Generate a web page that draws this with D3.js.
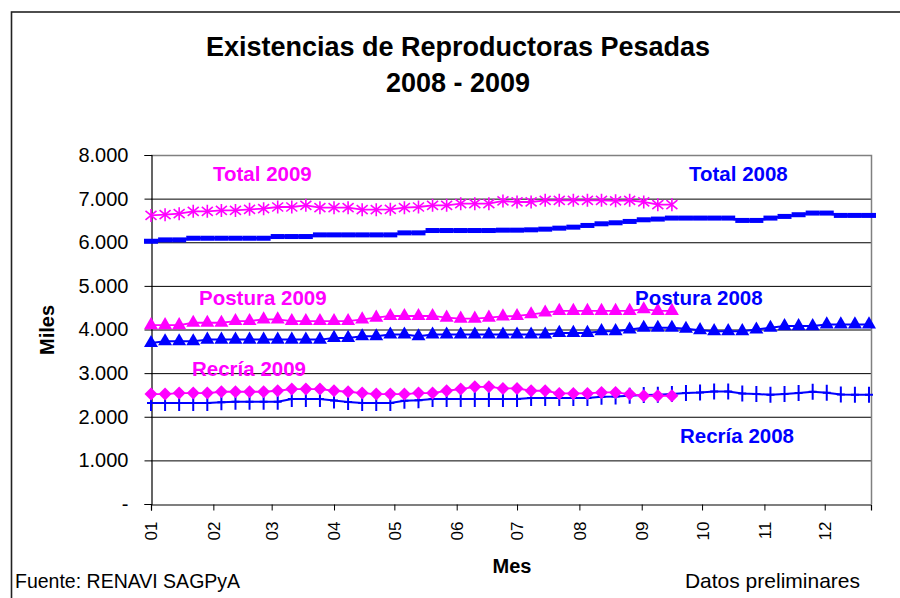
<!DOCTYPE html>
<html>
<head>
<meta charset="utf-8">
<script src="https://cdn.jsdelivr.net/npm/d3@7"></script>
<style>
  body { margin: 0; background: #fff; }
  svg { display: block; }
  text { font-family: "Liberation Sans", Arial, sans-serif; }
</style>
</head>
<body>
<svg id="chart" width="900" height="598"></svg>
<script>
// ---------------- DATA ----------------
const monthLabels = ["01","02","03","04","05","06","07","08","09","10","11","12"];
const monthStartDays = [0,31,60,91,121,152,182,213,244,274,305,335];
const yTickValues = [0,1000,2000,3000,4000,5000,6000,7000,8000];
const yTickLabels = ["-","1.000","2.000","3.000","4.000","5.000","6.000","7.000","8.000"];

// weekly values (miles), week index 0..n
const total2008 = [6023,6054,6054,6092,6092,6092,6092,6092,6092,6131,6131,6131,6169,6169,6169,6169,6169,6169,6215,6215,6269,6269,6269,6269,6269,6277,6277,6285,6300,6323,6346,6385,6423,6446,6477,6515,6531,6554,6554,6554,6554,6554,6500,6500,6554,6592,6631,6669,6669,6615,6615,6615];
const total2009 = [6615,6631,6654,6708,6708,6730,6730,6754,6770,6808,6808,6846,6792,6792,6792,6746,6746,6754,6792,6808,6846,6846,6885,6885,6885,6946,6923,6923,6962,6962,6962,6962,6962,6950,6962,6923,6862,6862];
const postura2008 = [3690,3729,3729,3729,3768,3768,3768,3768,3768,3768,3768,3768,3768,3806,3806,3845,3845,3884,3884,3845,3884,3884,3884,3884,3884,3884,3884,3884,3884,3922,3922,3922,3961,3961,4000,4039,4039,4039,4016,3984,3961,3961,3961,4000,4039,4078,4078,4078,4116,4116,4116,4116];
const postura2009 = [4101,4101,4101,4155,4155,4155,4194,4194,4233,4233,4194,4194,4194,4194,4194,4233,4271,4310,4310,4310,4310,4271,4248,4248,4271,4300,4310,4349,4388,4426,4426,4426,4426,4426,4426,4465,4426,4426];
const recria2008 = [2313,2313,2313,2313,2313,2330,2344,2344,2344,2344,2405,2405,2405,2370,2340,2313,2313,2313,2367,2380,2405,2405,2405,2405,2405,2405,2405,2428,2428,2428,2428,2428,2458,2465,2481,2496,2504,2519,2542,2557,2580,2580,2535,2519,2504,2519,2542,2573,2550,2512,2504,2504];
const recria2009 = [2519,2519,2542,2542,2542,2573,2573,2573,2573,2596,2634,2634,2634,2596,2573,2542,2519,2519,2519,2542,2542,2596,2634,2687,2687,2649,2649,2596,2596,2535,2535,2535,2557,2557,2519,2481,2481,2481];

const seriesLabels = [
  {text:"Total 2009", color:"#FF00FF", x:213, y:181},
  {text:"Total 2008", color:"#0000FF", x:689, y:181},
  {text:"Postura 2009", color:"#FF00FF", x:199, y:305},
  {text:"Postura 2008", color:"#0000FF", x:635, y:305},
  {text:"Recría 2009", color:"#FF00FF", x:192, y:376},
  {text:"Recría 2008", color:"#0000FF", x:680, y:443}
];

// ---------------- LAYOUT ----------------
const svg = d3.select("#chart");
const L = 151, R = 871, T = 155, B = 504;
const x = d3.scaleLinear().domain([0, 358]).range([L, R]);
const y = d3.scaleLinear().domain([0, 8000]).range([B, T]);
const dayOf = i => i * 7;

// outer chart border (left & top visible)
svg.append("rect").attr("x",11.5).attr("y",12).attr("width",1000).attr("height",1000)
  .attr("fill","none").attr("stroke","#222").attr("stroke-width",1.6);

// title
svg.append("text").attr("x",458).attr("y",56).attr("text-anchor","middle")
  .attr("font-size",27).attr("font-weight","bold").text("Existencias de Reproductoras Pesadas");
svg.append("text").attr("x",458).attr("y",92).attr("text-anchor","middle")
  .attr("font-size",27).attr("font-weight","bold").text("2008 - 2009");

// gridlines
svg.append("g").selectAll("line").data(yTickValues.filter(v => v > 0 && v < 8000)).join("line")
  .attr("x1",L).attr("x2",R).attr("y1",d=>y(d)+0.5).attr("y2",d=>y(d)+0.5)
  .attr("stroke","#000").attr("stroke-width",1);

// plot-area border (top & right gray)
svg.append("path").attr("d",`M${L},${T+0.5}H${R+0.5}V${B}`).attr("fill","none")
  .attr("stroke","#808080").attr("stroke-width",1.5);

// y axis
const yAxis = d3.axisLeft(y).tickValues(yTickValues).tickSize(7).tickPadding(16)
  .tickFormat((d,i) => yTickLabels[i]);
const gy = svg.append("g").attr("transform",`translate(${L+0.5},0)`).call(yAxis);
gy.select(".domain").attr("stroke","#000").attr("stroke-width",1.2);
gy.selectAll(".tick line").attr("stroke","#000");
gy.selectAll(".tick text").attr("font-size",20).attr("fill","#000")
  .style("font-family",'"Liberation Sans", Arial, sans-serif');

// x axis
const xAxis = d3.axisBottom(x).tickValues(monthStartDays).tickSize(6).tickFormat((d,i)=>monthLabels[i]);
const gx = svg.append("g").attr("transform",`translate(0,${B+0.5})`).call(xAxis);
gx.select(".domain").attr("stroke","#000").attr("stroke-width",1.2);
gx.selectAll(".tick line").attr("stroke","#000");
gx.selectAll(".tick text")
  .attr("font-size",17).attr("fill","#000")
  .style("font-family",'"Liberation Sans", Arial, sans-serif')
  .attr("text-anchor","end").attr("y",0).attr("dy","0.35em")
  .attr("transform","translate(0,17) rotate(-90)");

// axis titles
svg.append("text").attr("transform","translate(54,330) rotate(-90)").attr("text-anchor","middle")
  .attr("font-size",20).attr("font-weight","bold").text("Miles");
svg.append("text").attr("x",512).attr("y",573).attr("text-anchor","middle")
  .attr("font-size",20).attr("font-weight","bold").text("Mes");

// footer
svg.append("text").attr("x",15).attr("y",588).attr("font-size",19.5).text("Fuente: RENAVI SAGPyA");
svg.append("text").attr("x",860).attr("y",588).attr("text-anchor","end").attr("font-size",21).text("Datos preliminares");

// ---------------- SERIES ----------------
const line = d3.line().x((d,i)=>x(dayOf(i))).y(d=>y(d));
const BLUE = "#0000FF", MAG = "#FF00FF";

function drawLine(data, color, w) {
  svg.append("path").datum(data).attr("d",line).attr("fill","none")
    .attr("stroke",color).attr("stroke-width",w).attr("stroke-linejoin","round");
}
function markers(data) {
  return svg.append("g").selectAll("g").data(data).join("g")
    .attr("transform",(d,i)=>`translate(${x(dayOf(i))},${y(d)})`);
}

// 2008 series
drawLine(total2008, BLUE, 2.5);
markers(total2008).append("rect").attr("x",-7).attr("y",-2.5).attr("width",14).attr("height",5).attr("fill",BLUE);

drawLine(postura2008, BLUE, 2);
markers(postura2008).append("path").attr("d", d3.symbol(d3.symbolTriangle, 85)).attr("fill",BLUE);

drawLine(recria2008, BLUE, 2);
markers(recria2008).append("path").attr("d","M0,-8V8M-4,0H4").attr("stroke",BLUE).attr("stroke-width",2);

// 2009 series
drawLine(total2009, MAG, 1.8);
markers(total2009).append("path").attr("d","M0,-6.5V6.5M-5.5,-4.5L5.5,4.5M-5.5,4.5L5.5,-4.5")
  .attr("stroke",MAG).attr("stroke-width",1.6);

drawLine(postura2009, MAG, 1.8);
markers(postura2009).append("path").attr("d", d3.symbol(d3.symbolTriangle, 85)).attr("fill",MAG);

drawLine(recria2009, MAG, 1.8);
markers(recria2009).append("path").attr("d","M0,-6.5L6.5,0L0,6.5L-6.5,0Z").attr("fill",MAG);

// series labels
svg.append("g").selectAll("text").data(seriesLabels).join("text")
  .attr("x",d=>d.x).attr("y",d=>d.y).attr("fill",d=>d.color)
  .attr("font-size",20.5).attr("font-weight","bold").text(d=>d.text);
</script>
</body>
</html>
